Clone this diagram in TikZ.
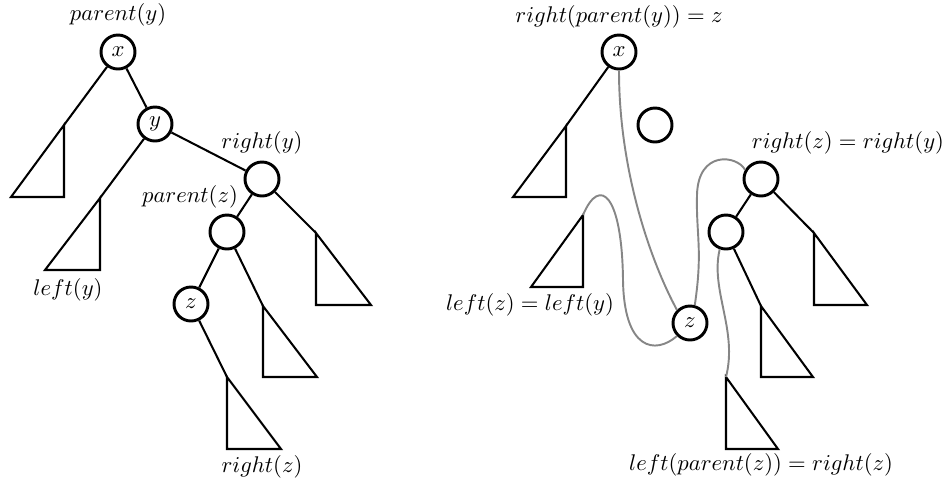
\documentclass[tikz,border=0pt]{standalone}
\usepackage{amsmath,amssymb}
\usepackage{tikz}

\begin{document}
\begin{tikzpicture}[x=0.0155cm, y=-0.0155cm, font=\normalsize]

\tikzstyle{vertex} = [circle, draw, line width=1.3pt,
                      minimum size=15pt, inner sep=0pt]
\tikzstyle{edge}   = [line width=0.9pt]
\tikzstyle{splice} = [draw=gray!95, line width=0.85pt]

\useasboundingbox (0,0) rectangle (952,482);

% ── Left tree: before deletion ───────────────────────
\node[vertex] (lx)  at (118, 52)  {$x$};
\node[vertex] (ly)  at (155,124)  {$y$};
\node[vertex] (lry) at (262,179)  {};
\node[vertex] (lpz) at (227,232)  {};
\node[vertex] (lz)  at (191,304)  {$z$};

\coordinate (lt1) at (64,125);
\coordinate (lt2) at (100,198);
\coordinate (lt3) at (316,233);
\coordinate (lt4) at (263,306);
\coordinate (lt5) at (227,377);

\node at (118, 15) {$parent(y)$};
\node at (262,143) {$right(y)$};
\node at (190,197) {$parent(z)$};
\node at (68, 290) {$left(y)$};
\node at (262,467) {$right(z)$};

\draw[edge] (lx)  -- (ly);
\draw[edge] (lx)  -- (lt1);
\draw[edge] (ly)  -- (lt2);
\draw[edge] (ly)  -- (lry);
\draw[edge] (lry) -- (lpz);
\draw[edge] (lry) -- (lt3);
\draw[edge] (lpz) -- (lz);
\draw[edge] (lpz) -- (lt4);
\draw[edge] (lz)  -- (lt5);

\draw[edge] (lt1) -- ++(0,72) -- ++(-53,0) -- cycle;
\draw[edge] (lt2) -- ++(0,72) -- ++(-55,0) -- cycle;
\draw[edge] (lt3) -- ++(0,72) -- ++(55,0) -- cycle;
\draw[edge] (lt4) -- ++(0,71) -- ++(54,0) -- cycle;
\draw[edge] (lt5) -- ++(0,72) -- ++(54,0) -- cycle;

% ── Right tree: after splicing z in place of y ───────
\node[vertex] (rx)  at (619, 52)  {$x$};
\node[vertex] (ry)  at (655,125)  {};
\node[vertex] (rry) at (761,179)  {};
\node[vertex] (rpz) at (726,232)  {};
\node[vertex] (rz)  at (690,323)  {$z$};

\coordinate (rt1) at (566,126);
\coordinate (rt2) at (583,215);
\coordinate (rt3) at (814,233);
\coordinate (rt4) at (761,306);
\coordinate (rt5) at (726,377);

\node at (619, 17) {$right(parent(y)) = z$};
\node at (848,143) {$right(z) = right(y)$};
\node at (530,305) {$left(z) = left(y)$};
\node at (761,465) {$left(parent(z)) = right(z)$};

\draw[edge] (rx)  -- (rt1);
\draw[edge] (rry) -- (rpz);
\draw[edge] (rry) -- (rt3);
\draw[edge] (rpz) -- (rt4);

\draw[edge] (rt1) -- ++(0,71) -- ++(-53,0) -- cycle;
\draw[edge] (rt2) -- ++(0,72) -- ++(-52,0) -- cycle;
\draw[edge] (rt3) -- ++(0,72) -- ++(53,0) -- cycle;
\draw[edge] (rt4) -- ++(0,71) -- ++(52,0) -- cycle;
\draw[edge] (rt5) -- ++(0,72) -- ++(52,0) -- cycle;

% ── New links (gray) ─────────────────────────────────
\draw[splice] (rx.south) .. controls (619,170) and (650,260) .. (rz.north west);
\draw[splice] (rz.south west) .. controls (655,355) and (624,350) .. (623,280)
              .. controls (622,195) and (600,175) .. (rt2);
\draw[splice] (rz.75) .. controls (703,250) and (696,235) .. (697,195)
              .. controls (698,150) and (737,155) .. (rry.150);
\draw[splice] (rpz.250) .. controls (710,290) and (738,330) .. (rt5);

\end{tikzpicture}
\end{document}
